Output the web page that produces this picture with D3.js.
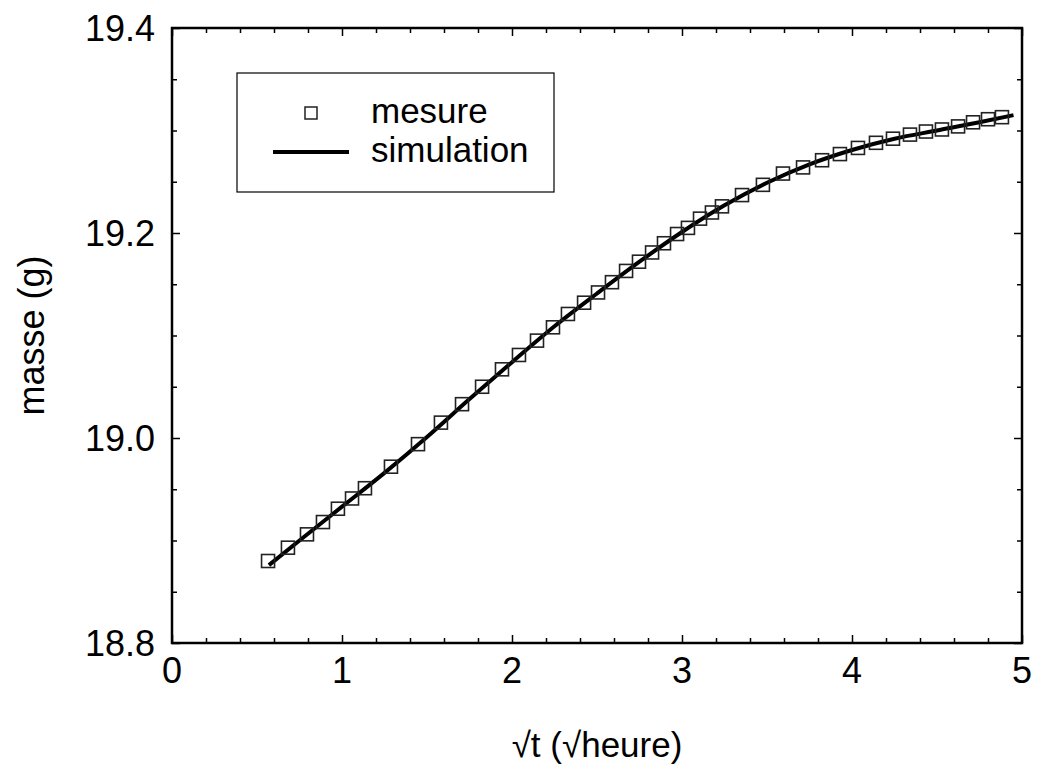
<!DOCTYPE html>
<html>
<head>
<meta charset="utf-8">
<script src="https://cdn.jsdelivr.net/npm/d3@7"></script>
<style>
    body { margin: 0; background: #fff; }
    svg { font-family: Arial, 'Liberation Sans', sans-serif; }
    .axis path, .axis line { stroke: #000; }
</style>
</head>
<body>
<div id="graph"></div>
<script>
// mesure: sqrt(t) and masse
var mesureX = [0.565, 0.682, 0.794, 0.888, 0.976, 1.059, 1.135, 1.288, 1.447, 1.582,
    1.706, 1.824, 1.941, 2.041, 2.147, 2.241, 2.329, 2.424, 2.506, 2.588,
    2.671, 2.747, 2.824, 2.894, 2.971, 3.035, 3.106, 3.176, 3.235, 3.353,
    3.476, 3.594, 3.712, 3.824, 3.929, 4.035, 4.141, 4.241, 4.341, 4.435,
    4.529, 4.624, 4.712, 4.800, 4.882];
var mesureY = [18.880, 18.893, 18.906, 18.918, 18.931, 18.941, 18.951, 18.972, 18.994, 19.015,
    19.033, 19.050, 19.067, 19.081, 19.095, 19.108, 19.121, 19.132, 19.142, 19.152,
    19.163, 19.172, 19.181, 19.190, 19.199, 19.205, 19.214, 19.220, 19.226, 19.237,
    19.247, 19.258, 19.264, 19.271, 19.277, 19.283, 19.288, 19.292, 19.296, 19.299,
    19.301, 19.304, 19.308, 19.311, 19.313];

// simulation curve
var simX = [0.57, 0.75, 1.0, 1.25, 1.5, 1.75, 2.0, 2.25, 2.5, 2.75, 3.0, 3.25, 3.5, 3.75, 4.0, 4.25, 4.5, 4.75, 4.95];
var simY = [18.876, 18.900, 18.933, 18.966, 19.001, 19.038, 19.074, 19.109, 19.141, 19.172,
    19.201, 19.227, 19.249, 19.267, 19.281, 19.292, 19.300, 19.308, 19.315];

var xTicks = [0, 1, 2, 3, 4, 5];
var yTicks = [18.8, 19.0, 19.2, 19.4];
var legendLabels = ['mesure', 'simulation'];

var width = 1038;
var height = 767;
var plotLeft = 172, plotRight = 1022, plotTop = 28, plotBottom = 643;

var svg = d3.select('#graph')
    .append('svg')
    .attr('width', width)
    .attr('height', height);

var xScale = d3.scaleLinear().domain([0, 5]).range([plotLeft, plotRight]);
var yScale = d3.scaleLinear().domain([18.8, 19.4]).range([plotBottom, plotTop]);

var xMinor = d3.range(0, 5.001, 0.2).filter(function(v) { return Math.abs(v - Math.round(v)) > 1e-6; });
var yMinor = d3.range(18.8, 19.401, 0.05).filter(function(v) { return Math.abs(v * 5 - Math.round(v * 5)) > 1e-6; });

function tickAxis(axisFn, scale, ticks, size) {
    return axisFn(scale).tickValues(ticks).tickSize(size).tickFormat('');
}

// minor ticks (inward, all four sides)
svg.append('g').attr('class', 'axis').attr('transform', 'translate(0,' + plotBottom + ')')
    .call(tickAxis(d3.axisTop, xScale, xMinor, 5));
svg.append('g').attr('class', 'axis').attr('transform', 'translate(0,' + plotTop + ')')
    .call(tickAxis(d3.axisBottom, xScale, xMinor, 5));
svg.append('g').attr('class', 'axis').attr('transform', 'translate(' + plotLeft + ',0)')
    .call(tickAxis(d3.axisRight, yScale, yMinor, 5));
svg.append('g').attr('class', 'axis').attr('transform', 'translate(' + plotRight + ',0)')
    .call(tickAxis(d3.axisLeft, yScale, yMinor, 5));

// major ticks
svg.append('g').attr('class', 'axis').attr('transform', 'translate(0,' + plotBottom + ')')
    .call(tickAxis(d3.axisTop, xScale, xTicks, 8));
svg.append('g').attr('class', 'axis').attr('transform', 'translate(0,' + plotTop + ')')
    .call(tickAxis(d3.axisBottom, xScale, xTicks, 8));
svg.append('g').attr('class', 'axis').attr('transform', 'translate(' + plotLeft + ',0)')
    .call(tickAxis(d3.axisRight, yScale, yTicks, 8));
svg.append('g').attr('class', 'axis').attr('transform', 'translate(' + plotRight + ',0)')
    .call(tickAxis(d3.axisLeft, yScale, yTicks, 8));

svg.selectAll('.axis path').remove();
svg.selectAll('.axis line').attr('stroke-width', 1.5);

// frame
svg.append('rect')
    .attr('x', plotLeft)
    .attr('y', plotTop)
    .attr('width', plotRight - plotLeft)
    .attr('height', plotBottom - plotTop)
    .attr('fill', 'none')
    .attr('stroke', '#000')
    .attr('stroke-width', 2.5);

// tick labels
svg.append('g').selectAll('text')
    .data(xTicks)
    .enter()
    .append('text')
    .attr('x', function(d) { return xScale(d); })
    .attr('y', plotBottom + 40)
    .attr('text-anchor', 'middle')
    .attr('font-size', 36)
    .text(function(d) { return d; });
svg.append('g').selectAll('text')
    .data(yTicks)
    .enter()
    .append('text')
    .attr('x', plotLeft - 17)
    .attr('y', function(d) { return yScale(d) + 13; })
    .attr('text-anchor', 'end')
    .attr('font-size', 36)
    .text(function(d) { return d.toFixed(1); });

// axis titles
svg.append('text')
    .attr('x', (plotLeft + plotRight) / 2)
    .attr('y', 757)
    .attr('text-anchor', 'middle')
    .attr('font-size', 35)
    .text('√t (√heure)');
svg.append('text')
    .attr('transform', 'translate(44,' + (plotTop + plotBottom) / 2 + ') rotate(-90)')
    .attr('text-anchor', 'middle')
    .attr('font-size', 36)
    .text('masse (g)');

// simulation line
var line = d3.line()
    .x(function(d) { return xScale(d[0]); })
    .y(function(d) { return yScale(d[1]); })
    .curve(d3.curveMonotoneX);
svg.append('path')
    .datum(d3.zip(simX, simY))
    .attr('d', line)
    .attr('fill', 'none')
    .attr('stroke', '#000')
    .attr('stroke-width', 4);

// mesure markers
var sq = 13;
svg.append('g').selectAll('rect')
    .data(d3.zip(mesureX, mesureY))
    .enter()
    .append('rect')
    .attr('x', function(d) { return xScale(d[0]) - sq / 2; })
    .attr('y', function(d) { return yScale(d[1]) - sq / 2; })
    .attr('width', sq)
    .attr('height', sq)
    .attr('fill', 'none')
    .attr('stroke', '#222')
    .attr('stroke-width', 1.6);

// legend
var legend = svg.append('g');
legend.append('rect')
    .attr('x', 237).attr('y', 73)
    .attr('width', 317).attr('height', 119)
    .attr('fill', '#fff')
    .attr('stroke', '#000')
    .attr('stroke-width', 1.2);
legend.append('rect')
    .attr('x', 311 - 6).attr('y', 113 - 6)
    .attr('width', 12).attr('height', 12)
    .attr('fill', 'none')
    .attr('stroke', '#222')
    .attr('stroke-width', 1.5);
legend.append('line')
    .attr('x1', 273).attr('x2', 349)
    .attr('y1', 152).attr('y2', 152)
    .attr('stroke', '#000')
    .attr('stroke-width', 4);
legend.selectAll('text.lab')
    .data(legendLabels)
    .enter()
    .append('text')
    .attr('class', 'lab')
    .attr('x', 371)
    .attr('y', function(d, i) { return 123 + i * 39; })
    .attr('font-size', 35)
    .text(function(d) { return d; });
</script>
</body>
</html>
